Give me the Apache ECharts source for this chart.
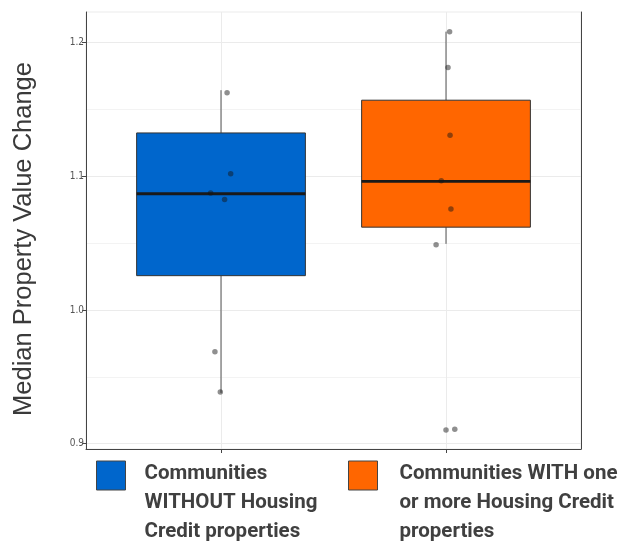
<!DOCTYPE html>
<html>
<head>
<meta charset="utf-8">
<script src="https://cdn.jsdelivr.net/npm/echarts@6/dist/echarts.min.js"></script>
<style>
html,body{margin:0;padding:0;background:#fff;}
#chart{width:624px;height:544px;}
</style>
</head>
<body>
<div id="chart"></div>
<script>
// ---- data ----
const groupNames = ['Communities WITHOUT Housing Credit properties', 'Communities WITH one or more Housing Credit properties'];
const groupLegendLines = [
  ['Communities', 'WITHOUT Housing', 'Credit properties'],
  ['Communities WITH one', 'or more Housing Credit', 'properties']
];
const groupPos = [1, 2];
const whiskerLow = [0.938, 1.0495];
const q1 = [1.0257, 1.062];
const median = [1.087, 1.0962];
const q3 = [1.1325, 1.157];
const whiskerHigh = [1.1645, 1.2083];

const pointsX0 = [1.027, 1.043, 0.954, 1.016, 0.973, 0.997];
const pointsY0 = [1.1625, 1.102, 1.0875, 1.0827, 0.9687, 0.9387];
const pointsX1 = [2.016, 2.009, 2.018, 1.979, 2.022, 1.956, 2.000, 2.039];
const pointsY1 = [1.2083, 1.1815, 1.1308, 1.0967, 1.0755, 1.0488, 0.9102, 0.9107];

const yLabelValues = [0.9, 1.0, 1.1, 1.2];
const yTitle = 'Median Property Value Change';

// ---- styles ----
const fills = ['#0066cc', '#ff6600'];
const narrow = "'DejaVu Sans Condensed', 'Liberation Sans', sans-serif";
const BOX_W = 0.75;

const chart = echarts.init(document.getElementById('chart'), null, {renderer: 'canvas'});

function boxRender(params, api) {
  const x = api.value(0);
  const pLo = api.coord([x, api.value(1)]);
  const pQ1 = api.coord([x, api.value(2)]);
  const pMed = api.coord([x, api.value(3)]);
  const pQ3 = api.coord([x, api.value(4)]);
  const pHi = api.coord([x, api.value(5)]);
  const half = api.size([BOX_W, 0])[0] / 2;
  const cx = pMed[0];
  return {
    type: 'group',
    children: [
      {type: 'line', shape: {x1: cx, y1: pHi[1], x2: cx, y2: pQ3[1]}, style: {stroke: '#555', lineWidth: 1}},
      {type: 'line', shape: {x1: cx, y1: pQ1[1], x2: cx, y2: pLo[1]}, style: {stroke: '#555', lineWidth: 1}},
      {type: 'rect', shape: {x: cx - half, y: pQ3[1], width: half * 2, height: pQ1[1] - pQ3[1]},
       style: {fill: api.visual('color'), stroke: '#333', lineWidth: 1}},
      {type: 'line', shape: {x1: cx - half, y1: pMed[1], x2: cx + half, y2: pMed[1]},
       style: {stroke: '#1a1a1a', lineWidth: 2.8}}
    ]
  };
}

function boxSeries(i) {
  return {
    type: 'custom',
    name: groupNames[i],
    renderItem: boxRender,
    itemStyle: {color: fills[i]},
    encode: {x: 0, y: [1, 2, 3, 4, 5]},
    data: [[groupPos[i], whiskerLow[i], q1[i], median[i], q3[i], whiskerHigh[i]]],
    z: 2,
    silent: true
  };
}

function pts(xs, ys) { return xs.map((x, i) => [x, ys[i]]); }

// icon: a 29x29 square at the top of a 29x83 item box
const legendIcon = 'path://M0,0L29,0L29,29L0,29Z M0,83';

function legendFor(i, left, padLeft) {
  return {
    data: [groupNames[i]],
    left: left, top: 459,
    padding: 0,
    orient: 'vertical',
    selectedMode: false,
    icon: legendIcon,
    itemWidth: 29, itemHeight: 83,
    itemStyle: {borderColor: '#444', borderWidth: 1},
    formatter: () => groupLegendLines[i].join('\n'),
    textStyle: {
      fontFamily: "Roboto, 'Liberation Sans', sans-serif", fontSize: 20.5, fontWeight: 'bold', color: '#404040',
      lineHeight: 29, padding: [0, 0, 0, padLeft]
    }
  };
}

const option = {
  backgroundColor: '#fff',
  animation: false,
  grid: {left: 86, top: 12, width: 495, height: 437, show: true, borderColor: '#ebebeb', borderWidth: 1, containLabel: false},
  legend: [legendFor(0, 96, 14), legendFor(1, 348, 17)],
  xAxis: {
    type: 'value', min: 0.4, max: 2.6, splitNumber: 2,
    axisLine: {show: true, onZero: false, lineStyle: {color: '#444', width: 1}},
    axisTick: {show: true, length: 4, customValues: groupPos, lineStyle: {color: '#444'}},
    axisLabel: {show: false},
    splitLine: {show: true, lineStyle: {color: '#ebebeb', width: 1}}
  },
  yAxis: [{
    type: 'value', min: 0.896, max: 1.223, splitNumber: 3,
    name: yTitle, nameLocation: 'middle', nameRotate: 90, nameGap: 49,
    nameTextStyle: {fontFamily: "'Liberation Sans', Arial, sans-serif", fontSize: 25.5, color: '#3a3a3a', padding: [0, 17, 0, 0]},
    axisLine: {show: true, onZero: false, lineStyle: {color: '#444', width: 1}},
    axisTick: {show: true, length: 4, customValues: yLabelValues, lineStyle: {color: '#444'}},
    axisLabel: {show: true, customValues: yLabelValues, margin: 2, fontFamily: narrow, fontSize: 10, color: '#555',
      formatter: v => v.toFixed(1)},
    splitLine: {show: true, lineStyle: {color: '#ebebeb', width: 1}},
    minorTick: {show: false, splitNumber: 2},
    minorSplitLine: {show: true, lineStyle: {color: '#f3f3f3', width: 1}}
  }, {
    type: 'value', min: 0.896, max: 1.223, position: 'right',
    axisLine: {show: true, onZero: false, lineStyle: {color: '#444', width: 1}},
    axisTick: {show: false}, axisLabel: {show: false}, splitLine: {show: false}
  }],
  series: [
    boxSeries(0),
    boxSeries(1),
    {type: 'scatter', data: pts(pointsX0, pointsY0), symbolSize: 5.5, itemStyle: {color: 'rgba(20,20,20,0.6)'}, z: 5, silent: true},
    {type: 'scatter', data: pts(pointsX1, pointsY1), symbolSize: 5.5, itemStyle: {color: 'rgba(20,20,20,0.6)'}, z: 5, silent: true}
  ]
};
chart.setOption(option);
</script>
</body>
</html>
